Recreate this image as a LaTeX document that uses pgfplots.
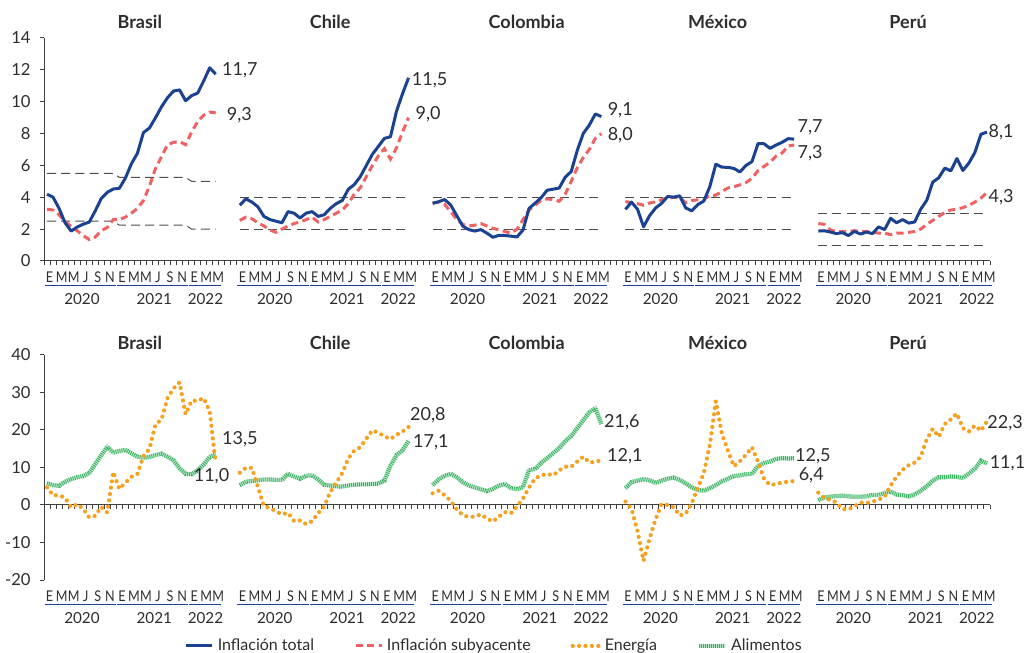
\documentclass[border=0pt]{standalone}
\usepackage{pgfplots}
\pgfplotsset{compat=1.18}
\usepackage{pgfplotstable}
\usepackage{fontspec}
\setmainfont{Lato}
\newfontfamily\condfont{Lato}[FakeStretch=0.85]
\definecolor{cblue}{RGB}{27,66,145}
\definecolor{cred}{RGB}{240,98,98}
\definecolor{corange}{RGB}{247,160,30}
\definecolor{cgreenL}{RGB}{185,232,200}
\definecolor{cgreenD}{RGB}{55,175,95}
\definecolor{ctext}{RGB}{45,45,45}

\pgfplotstableread{
m tot core ene ali
0 4.19 3.25 4.7 5.8
1 4.01 3.20 2.6 5.3
2 3.30 2.90 2.6 5.1
3 2.40 2.50 1.9 6.2
4 1.88 2.15 -0.6 6.9
5 2.13 1.90 0.2 7.4
6 2.31 1.60 -1.0 7.7
7 2.44 1.35 -3.3 8.5
8 3.14 1.50 -2.9 10.9
9 3.92 1.90 -0.5 13.3
10 4.31 2.10 -2.0 15.5
11 4.52 2.60 8.8 14.0
12 4.56 2.60 4.3 14.4
13 5.20 2.75 5.9 14.7
14 6.10 3.00 7.5 13.8
15 6.76 3.30 8.3 12.9
16 8.06 3.80 13.0 12.6
17 8.35 4.70 15.0 12.8
18 8.99 5.80 21.5 13.3
19 9.68 6.55 22.8 13.7
20 10.25 7.30 28.5 12.9
21 10.67 7.45 31.1 11.9
22 10.74 7.50 32.7 9.8
23 10.06 7.30 24.2 8.3
24 10.38 8.10 27.8 8.2
25 10.54 8.75 27.8 9.2
26 11.30 9.15 28.5 10.8
27 12.13 9.35 25.0 12.8
28 11.73 9.30 11.0 13.5
}\tBR

\pgfplotstableread{
m tot core ene ali
0 3.5 2.55 8.6 5.3
1 3.9 2.75 9.9 6.2
2 3.7 2.65 9.9 6.4
3 3.4 2.40 4.8 6.6
4 2.8 2.20 -0.3 6.8
5 2.6 1.95 -0.8 6.8
6 2.5 1.80 -1.7 6.7
7 2.4 2.00 -2.5 6.7
8 3.1 2.20 -2.1 8.3
9 3.0 2.35 -4.3 7.6
10 2.7 2.45 -4.1 7.0
11 3.0 2.60 -5.1 7.8
12 3.1 2.75 -4.3 7.9
13 2.8 2.45 -2.2 6.8
14 2.9 2.60 -0.4 5.4
15 3.3 2.80 3.4 5.2
16 3.6 3.00 6.0 5.0
17 3.8 3.20 8.5 4.9
18 4.5 3.60 12.4 5.2
19 4.8 4.20 14.5 5.4
20 5.3 4.60 15.4 5.5
21 6.0 5.30 17.7 5.5
22 6.7 6.00 19.9 5.6
23 7.2 6.60 19.3 5.7
24 7.7 7.05 18.3 6.5
25 7.8 6.40 17.6 10.5
26 9.4 7.10 18.7 13.3
27 10.5 8.10 19.6 14.6
28 11.5 9.00 20.8 17.1
}\tCL

\pgfplotstableread{
m tot core ene ali
0 3.62 3.65 3.1 5.3
1 3.72 3.70 3.8 6.8
2 3.86 3.55 2.6 7.8
3 3.51 3.10 1.1 8.3
4 2.85 2.60 -1.2 7.4
5 2.19 2.30 -2.7 6.1
6 1.97 2.20 -3.2 5.2
7 1.88 2.25 -3.1 4.7
8 1.97 2.35 -2.5 4.2
9 1.75 2.20 -3.6 3.7
10 1.49 2.05 -4.4 4.3
11 1.61 1.95 -3.1 5.2
12 1.60 1.85 -1.9 5.6
13 1.56 1.75 -2.2 4.5
14 1.51 2.00 -0.4 4.2
15 1.95 2.60 1.7 4.8
16 3.30 3.20 4.7 9.3
17 3.63 3.50 7.1 9.6
18 3.97 3.80 7.9 11.2
19 4.44 3.90 8.3 12.5
20 4.51 3.85 7.9 13.8
21 4.58 3.75 9.2 15.2
22 5.26 4.20 10.2 17.0
23 5.62 5.00 10.2 18.4
24 6.94 5.85 11.6 20.5
25 8.01 6.50 12.9 22.6
26 8.53 7.00 11.4 24.7
27 9.23 7.70 11.4 25.8
28 9.07 8.00 12.1 21.6
}\tCO

\pgfplotstableread{
m tot core ene ali
0 3.24 3.73 0.9 4.5
1 3.70 3.66 -1.0 6.1
2 3.25 3.60 -7.0 6.5
3 2.15 3.50 -14.9 6.9
4 2.84 3.64 -9.0 6.6
5 3.33 3.71 -3.8 5.9
6 3.62 3.85 0.3 6.5
7 4.05 3.97 0.0 7.0
8 4.01 3.99 -0.6 7.3
9 4.09 3.98 -2.8 6.7
10 3.33 3.66 -2.3 5.8
11 3.15 3.80 0.5 4.7
12 3.54 3.84 4.5 4.0
13 3.76 3.87 8.5 3.8
14 4.67 4.12 16.0 4.5
15 6.08 4.13 27.7 5.3
16 5.89 4.37 19.0 6.3
17 5.88 4.58 14.5 7.0
18 5.81 4.66 10.3 7.7
19 5.59 4.78 11.7 7.9
20 6.00 4.92 13.4 8.2
21 6.24 5.19 15.4 8.3
22 7.37 5.67 11.5 10.4
23 7.36 5.94 7.0 11.2
24 7.07 6.21 5.3 11.6
25 7.28 6.59 5.6 12.3
26 7.45 6.78 6.0 12.5
27 7.68 7.22 6.2 12.4
28 7.65 7.28 6.4 12.5
}\tMX

\pgfplotstableread{
m tot core ene ali
0 1.88 2.35 3.3 1.3
1 1.90 2.30 1.8 2.0
2 1.82 1.95 1.4 2.2
3 1.72 1.85 0.7 2.4
4 1.78 1.85 -1.1 2.5
5 1.60 1.85 -1.1 2.3
6 1.86 1.90 -0.4 2.2
7 1.69 1.85 0.7 2.2
8 1.82 1.85 0.5 2.3
9 1.72 1.80 0.9 2.7
10 2.14 1.75 1.4 2.7
11 1.97 1.75 2.2 3.2
12 2.68 1.65 5.2 3.6
13 2.40 1.75 7.6 2.8
14 2.60 1.75 9.4 2.6
15 2.38 1.80 10.6 2.3
16 2.45 1.85 11.3 2.8
17 3.25 2.00 12.9 3.8
18 3.81 2.30 17.5 5.0
19 4.95 2.55 20.3 6.5
20 5.23 2.80 18.2 7.4
21 5.83 3.05 21.6 7.4
22 5.66 3.20 22.8 7.6
23 6.43 3.25 24.4 7.5
24 5.68 3.35 20.5 7.2
25 6.15 3.50 19.6 8.4
26 6.82 3.70 21.2 9.7
27 7.96 3.95 19.8 11.8
28 8.09 4.30 22.3 11.1
}\tPE

\tikzset{
  tot/.style={cblue, line width=1.5bp, line join=round},
  core/.style={cred, line width=1.5bp, dash pattern=on 3.6bp off 2.2bp},
  ene/.style={corange, line width=2.1bp, line cap=round, dash pattern=on 0bp off 3.2bp},
  ali/.style={cgreenL, line width=2.1bp, postaction={draw=cgreenD, line width=2.1bp, dash pattern=on 0.4bp off 0.6bp}},
  tgt/.style={black!70, line width=0.5bp, dash pattern=on 4.5bp off 2.6bp},
  anno/.style={anchor=west, inner sep=0pt, text=ctext, font=\fontsize{9bp}{10bp}\selectfont},
  ttl/.style={text=ctext, font=\fontsize{9bp}{10bp}\selectfont\bfseries},
}
\newcommand\yrf{\fontsize{7.6bp}{8bp}\selectfont}
% #1-#3 year centres, #4..#9 underline ends
\newcommand\yrs[9]{%
  \draw[cblue, line width=0.6bp] ([yshift=-12.3bp]axis cs:#4,\ymn) -- ([yshift=-12.3bp]axis cs:#5,\ymn);
  \draw[cblue, line width=0.6bp] ([yshift=-12.3bp]axis cs:#6,\ymn) -- ([yshift=-12.3bp]axis cs:#7,\ymn);
  \draw[cblue, line width=0.6bp] ([yshift=-12.3bp]axis cs:#8,\ymn) -- ([yshift=-12.3bp]axis cs:#9,\ymn);
  \node[text=ctext, font=\yrf] at ([yshift=-18.8bp]axis cs:#1,\ymn) {2020};
  \node[text=ctext, font=\yrf] at ([yshift=-18.8bp]axis cs:#2,\ymn) {2021};
  \node[text=ctext, font=\yrf] at ([yshift=-18.8bp]axis cs:#3,\ymn) {2022};
}
\newcommand\allyrs{%
  \yrs{5.8}{17.8}{26.3}{-0.4}{11.4}{11.6}{23.4}{23.6}{28.9}
  \yrs{37.8}{49.8}{58.3}{31.6}{43.4}{43.6}{55.4}{55.6}{60.9}
  \yrs{69.8}{81.8}{90.3}{63.6}{75.4}{75.6}{87.4}{87.6}{92.9}
  \yrs{101.8}{113.8}{122.3}{95.6}{107.4}{107.6}{119.4}{119.6}{124.9}
  \yrs{133.8}{145.8}{154.3}{127.6}{139.4}{139.6}{151.4}{151.6}{156.9}
}

\pgfplotsset{
  rowaxis/.style={
    anchor=south west,
    scale only axis, width=473bp,
    xmin=-0.5, xmax=156.5,
    axis x line*=bottom, axis y line*=left,
    axis line style={black!75, line width=0.5bp},
    xtick={0,2,...,28,32,34,...,60,64,66,...,92,96,98,...,124,128,130,...,156},
    xticklabels={E,M,M,J,S,N,E,M,M,J,S,N,E,M,M,
                 E,M,M,J,S,N,E,M,M,J,S,N,E,M,M,
                 E,M,M,J,S,N,E,M,M,J,S,N,E,M,M,
                 E,M,M,J,S,N,E,M,M,J,S,N,E,M,M,
                 E,M,M,J,S,N,E,M,M,J,S,N,E,M,M},
    major tick length=0pt,
    minor tick length=2.2bp,
    tick align=outside,
    minor tick style={black!75, line width=0.5bp},
    x tick label style={font=\fontsize{7.4bp}{8bp}\selectfont\condfont, text=ctext, yshift=-2.0bp, xshift=1.3bp},
    y tick label style={font=\fontsize{8.3bp}{9bp}\selectfont, text=ctext, xshift=-3.2bp},
    /pgf/number format/assume math mode=true,
    clip=false,
  }
}

\begin{document}
\begin{tikzpicture}
\useasboundingbox (0,0) rectangle (512bp,326.5bp);
\def\ymn{0}
\begin{axis}[rowaxis, at={(22bp,196bp)}, height=111.5bp,
  ymin=0, ymax=14, ytick={0,2,...,14}, minor ytick={0,2,...,14},
  minor xtick={-0.5,0.5,...,156.5}]
  % targets
  \addplot[tgt] coordinates {(0,5.5)(11,5.5)(12,5.25)(23,5.25)(24,5)(28,5)};
  \addplot[tgt] coordinates {(0,2.5)(11,2.5)(12,2.25)(23,2.25)(24,2)(28,2)};
  \addplot[tgt] coordinates {(32,4)(60,4)};
  \addplot[tgt] coordinates {(32,2)(60,2)};
  \addplot[tgt] coordinates {(64,4)(92,4)};
  \addplot[tgt] coordinates {(64,2)(92,2)};
  \addplot[tgt] coordinates {(96,4)(124,4)};
  \addplot[tgt] coordinates {(96,2)(124,2)};
  \addplot[tgt] coordinates {(128,3)(156,3)};
  \addplot[tgt] coordinates {(128,1)(156,1)};
  % core
  \addplot[core] table[x expr=\thisrow{m}, y=core] {\tBR};
  \addplot[core] table[x expr=\thisrow{m}+32, y=core] {\tCL};
  \addplot[core] table[x expr=\thisrow{m}+64, y=core] {\tCO};
  \addplot[core] table[x expr=\thisrow{m}+96, y=core] {\tMX};
  \addplot[core] table[x expr=\thisrow{m}+128, y=core] {\tPE};
  % total
  \addplot[tot] table[x expr=\thisrow{m}, y=tot] {\tBR};
  \addplot[tot] table[x expr=\thisrow{m}+32, y=tot] {\tCL};
  \addplot[tot] table[x expr=\thisrow{m}+64, y=tot] {\tCO};
  \addplot[tot] table[x expr=\thisrow{m}+96, y=tot] {\tMX};
  \addplot[tot] table[x expr=\thisrow{m}+128, y=tot] {\tPE};
  % titles
  \node[ttl] at (axis cs:15.4,15.0) {Brasil};
  \node[ttl] at (axis cs:47.0,15.0) {Chile};
  \node[ttl] at (axis cs:79.6,15.0) {Colombia};
  \node[ttl] at (axis cs:111.3,15.0) {México};
  \node[ttl] at (axis cs:142.9,15.0) {Perú};
  % end labels
  \node[anno] at (axis cs:29.0,12.0) {11,7};
  \node[anno] at (axis cs:29.8,9.17) {9,3};
  \node[anno] at (axis cs:60.5,11.36) {11,5};
  \node[anno] at (axis cs:61.1,9.23) {9,0};
  \node[anno] at (axis cs:93.0,9.48) {9,1};
  \node[anno] at (axis cs:93.0,7.9) {8,0};
  \node[anno] at (axis cs:124.5,8.41) {7,7};
  \node[anno] at (axis cs:124.5,6.78) {7,3};
  \node[anno] at (axis cs:156.2,8.1) {8,1};
  \node[anno] at (axis cs:156.2,4.02) {4,3};
  \allyrs
\end{axis}

\def\ymn{-20}
\begin{axis}[rowaxis, at={(22bp,36.5bp)}, height=112.5bp,
  ymin=-20, ymax=40, ytick={-20,-10,...,40}, minor ytick={-20,-10,...,40},
  x axis line style={draw=none},
  legend columns=4,
  legend style={at={(0.477,-0.293)}, anchor=center, draw=none, fill=none,
    font=\fontsize{8bp}{9bp}\selectfont, text=ctext,
    /tikz/every even column/.append style={column sep=18bp}},
  legend cell align=left,
  legend image code/.code={\draw[#1] (0bp,0bp) -- (13bp,0bp);}]
  \draw[black!75, line width=0.5bp] (axis cs:-0.5,0) -- (axis cs:156.5,0);
  \pgfplotsinvokeforeach{-0.5,0.5,...,156.5}{
    \draw[black!75, line width=0.5bp] (axis cs:#1,0) -- (axis cs:#1,-1.17);
  }
  \addplot[ali, forget plot] table[x expr=\thisrow{m}, y=ali] {\tBR};
  \addplot[ali, forget plot] table[x expr=\thisrow{m}+32, y=ali] {\tCL};
  \addplot[ali, forget plot] table[x expr=\thisrow{m}+64, y=ali] {\tCO};
  \addplot[ali, forget plot] table[x expr=\thisrow{m}+96, y=ali] {\tMX};
  \addplot[ali, forget plot] table[x expr=\thisrow{m}+128, y=ali] {\tPE};
  \addplot[ene, forget plot] table[x expr=\thisrow{m}, y=ene] {\tBR};
  \addplot[ene, forget plot] table[x expr=\thisrow{m}+32, y=ene] {\tCL};
  \addplot[ene, forget plot] table[x expr=\thisrow{m}+64, y=ene] {\tCO};
  \addplot[ene, forget plot] table[x expr=\thisrow{m}+96, y=ene] {\tMX};
  \addplot[ene, forget plot] table[x expr=\thisrow{m}+128, y=ene] {\tPE};
  \addlegendimage{tot}\addlegendentry{Inflación total}
  \addlegendimage{core}\addlegendentry{Inflación subyacente}
  \addlegendimage{ene}\addlegendentry{Energía}
  \addlegendimage{ali}\addlegendentry{Alimentos}
  \node[ttl] at (axis cs:15.4,43.2) {Brasil};
  \node[ttl] at (axis cs:47.0,43.2) {Chile};
  \node[ttl] at (axis cs:79.6,43.2) {Colombia};
  \node[ttl] at (axis cs:111.3,43.2) {México};
  \node[ttl] at (axis cs:142.9,43.2) {Perú};
  \node[anno] at (axis cs:29.0,17.5) {13,5};
  \node[anno] at (axis cs:24.3,7.56) {11,0};
  \node[anno] at (axis cs:60.2,24.0) {20,8};
  \node[anno] at (axis cs:60.7,16.6) {17,1};
  \node[anno] at (axis cs:92.4,22.2) {21,6};
  \node[anno] at (axis cs:92.9,12.9) {12,1};
  \node[anno] at (axis cs:124.1,12.9) {12,5};
  \node[anno] at (axis cs:124.7,7.8) {6,4};
  \node[anno] at (axis cs:156.0,21.8) {22,3};
  \node[anno] at (axis cs:156.4,11.1) {11,1};
  \allyrs
\end{axis}
\end{tikzpicture}
\end{document}
